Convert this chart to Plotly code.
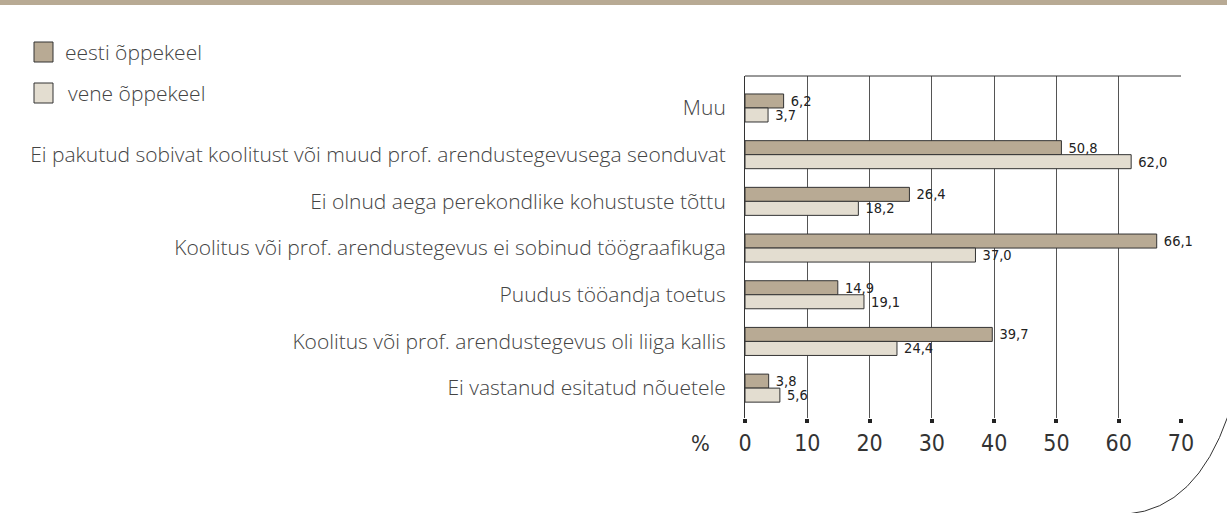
import plotly.graph_objects as go

categories = [
    "Muu",
    "Ei pakutud sobivat koolitust või muud prof. arendustegevusega seonduvat",
    "Ei olnud aega perekondlike kohustuste tõttu",
    "Koolitus või prof. arendustegevus ei sobinud töögraafikuga",
    "Puudus tööandja toetus",
    "Koolitus või prof. arendustegevus oli liiga kallis",
    "Ei vastanud esitatud nõuetele",
]
eesti = [6.2, 50.8, 26.4, 66.1, 14.9, 39.7, 3.8]
vene = [3.7, 62.0, 18.2, 37.0, 19.1, 24.4, 5.6]
series_names = ["eesti õppekeel", "vene õppekeel"]
x_ticks = [0, 10, 20, 30, 40, 50, 60, 70]

W, H = 1227, 513
L, R, T, B = 745, 46, 76, 95
PW, PH = W - L - R, H - T - B


def px(x):
    return (x - L) / PW


def py(y):
    return (H - B - y) / PH


def fmt(v):
    return " " + f"{v:.1f}".replace(".", ",")


C1, C2 = "#b8aa94", "#e3ddd0"
EDGE = "#333333"
LABEL_FONT = dict(family="Open Sans", size=21, color="#444444", weight=300)
NUM_FONT = "DejaVu Sans Condensed, Roboto"

fig = go.Figure()
for name, vals, col in [(series_names[0], eesti, C1), (series_names[1], vene, C2)]:
    fig.add_trace(go.Bar(
        y=categories, x=vals, orientation="h", name=name,
        marker=dict(color=col, line=dict(color=EDGE, width=1)),
        text=[fmt(v) for v in vals], textposition="outside", constraintext="none",
        textfont=dict(family=NUM_FONT, size=14.5, color="#222222"),
        cliponaxis=False, showlegend=False,
    ))

shapes = [
    dict(type="rect", xref="paper", yref="paper", x0=px(0), x1=px(W), y0=py(0), y1=py(5),
         fillcolor=C1, line=dict(width=0), layer="above"),
    dict(type="line", xref="x", yref="paper", x0=0, x1=70, y0=1, y1=1,
         line=dict(color=EDGE, width=1)),
    dict(type="path", xref="paper", yref="paper",
         path=f"M {px(1228)} {py(416)} Q {px(1196)} {py(508)} {px(1128)} {py(514)}",
         line=dict(color="#333333", width=1)),
]
annotations = [
    dict(text="%", xref="paper", yref="paper", x=px(700), y=py(443), showarrow=False,
         font=dict(family=NUM_FONT, size=22, color="#333333"), xanchor="center", yanchor="middle"),
]
for i, (name, col) in enumerate(zip(series_names, [C1, C2])):
    yc = 52 + i * 41
    shapes.append(dict(type="rect", xref="paper", yref="paper",
                       x0=px(34), x1=px(53), y0=py(yc - 10), y1=py(yc + 10),
                       fillcolor=col, line=dict(color=EDGE, width=1)))
    annotations.append(dict(text=name, xref="paper", yref="paper", x=px(63 + i * 3), y=py(yc),
                            showarrow=False, xanchor="left", yanchor="middle", font=LABEL_FONT))

fig.update_layout(
    width=W, height=H,
    margin=dict(l=L, r=R, t=T, b=B),
    paper_bgcolor="white", plot_bgcolor="white",
    barmode="group", bargap=0.4, bargroupgap=0,
    shapes=shapes, annotations=annotations,
    xaxis=dict(range=[0, 70], tickvals=x_ticks, ticktext=[str(t) for t in x_ticks],
               showgrid=True, gridcolor="#555555", gridwidth=1, zeroline=False,
               ticks="outside", ticklen=4, tickwidth=4, tickcolor="#222222",
               tickfont=dict(family=NUM_FONT, size=23, color="#333333"),
               showline=False, fixedrange=True),
    yaxis=dict(categoryorder="array", categoryarray=categories,
               range=[6.64, -0.685], showline=True, linecolor=EDGE, linewidth=1,
               ticks="", tickfont=LABEL_FONT, ticklabelstandoff=14, showgrid=False,
               fixedrange=True),
    font=dict(family="Open Sans"),
)

fig.write_html("out.html", config={"displayModeBar": False},
               post_script="document.body.style.margin='0';")
